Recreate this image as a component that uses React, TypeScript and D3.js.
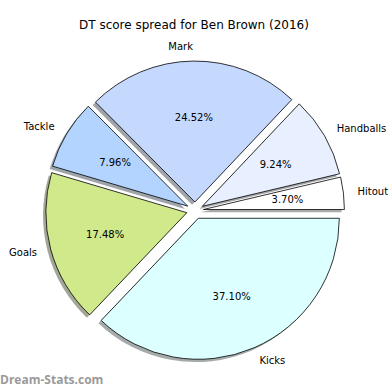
import React from "react";
import * as d3 from "d3";

const labels = ["Hitout", "Handballs", "Mark", "Tackle", "Goals", "Kicks"];
const shares = [3.7, 9.24, 24.52, 7.96, 17.48, 37.1];
const colors = ["#ffffff", "#e8f0ff", "#c5d9ff", "#b3d4ff", "#cfe98b", "#dcffff"];

const W = 390;
const H = 390;
const cx = 195;
const cy = 210.5;
const R = 141;
const explode = 0.06;

const App: React.FC = () => {
  // matplotlib-like: start at 3 o'clock, go counterclockwise
  const pie = d3
    .pie<number>()
    .sort(null)
    .startAngle(Math.PI / 2)
    .endAngle(Math.PI / 2 - 2 * Math.PI);
  const arcs = pie(shares);
  const arc = d3.arc<d3.PieArcDatum<number>>().innerRadius(0).outerRadius(R);

  const items = arcs.map((a, i) => {
    const mid = (a.startAngle + a.endAngle) / 2;
    const dx = Math.sin(mid);
    const dy = -Math.cos(mid);
    const ox = dx * explode * R;
    const oy = dy * explode * R;
    return { a, i, dx, dy, ox, oy };
  });

  return (
    <svg
      width={W}
      height={H}
      style={{ position: "absolute", left: 0, top: 0, background: "#fff" }}
      fontFamily="DejaVu Sans"
    >
      <text x={194} y={25} textAnchor="middle" dominantBaseline="central" fontSize={12} fill="#000">
        DT score spread for Ben Brown (2016)
      </text>
      <g transform={`translate(${cx},${cy})`}>
        {/* shadows */}
        {items.map(({ a, i, ox, oy }) => (
          <path
            key={"s" + i}
            d={arc(a) || ""}
            transform={`translate(${ox - 2.8},${oy + 2.8})`}
            fill={d3.color(colors[i])!.darker(3).toString()}
            opacity={0.5}
          />
        ))}
        {items.map(({ a, i, ox, oy }) => (
          <path
            key={"w" + i}
            d={arc(a) || ""}
            transform={`translate(${ox},${oy})`}
            fill={colors[i]}
            stroke="#000"
            strokeWidth={0.8}
            strokeLinejoin="round"
          />
        ))}
        {items.map(({ i, dx, dy, ox, oy }) => (
          <text
            key={"l" + i}
            x={ox + dx * 1.1 * R}
            y={oy + dy * 1.1 * R}
            textAnchor={dx > 0 ? "start" : "end"}
            dominantBaseline="central"
            fontSize={10}
            fill="#000"
          >
            {labels[i]}
          </text>
        ))}
        {items.map(({ i, dx, dy, ox, oy }) => (
          <text
            key={"p" + i}
            x={ox + dx * 0.6 * R}
            y={oy + dy * 0.6 * R}
            textAnchor="middle"
            dominantBaseline="central"
            fontSize={10}
            fill="#000"
          >
            {shares[i].toFixed(2) + "%"}
          </text>
        ))}
      </g>
      <text x={0} y={384} fontFamily="Open Sans" fontWeight="bold" fontSize={12} fill="#9a9a9a">
        Dream-Stats.com
      </text>
    </svg>
  );
};

export default App;
